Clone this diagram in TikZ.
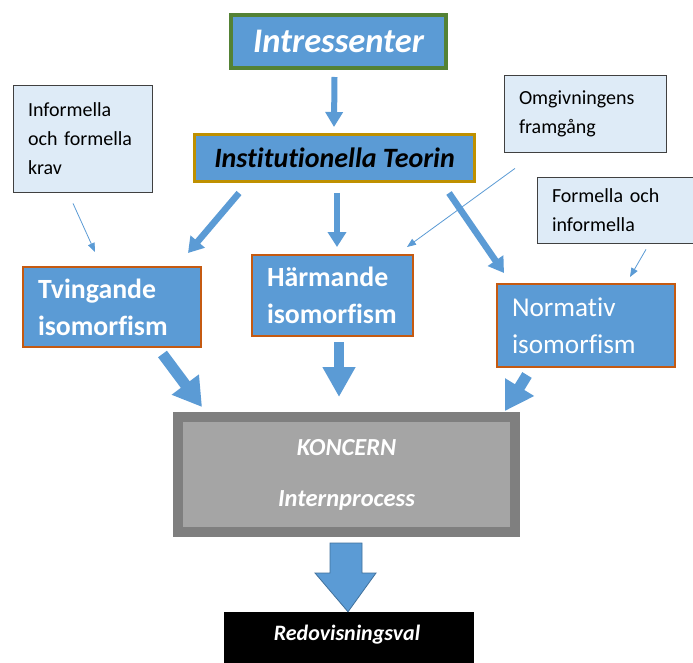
\documentclass[tikz,border=0pt]{standalone}
\usepackage{fontspec}
\setmainfont{Carlito}[Ligatures={NoCommon}]
\usetikzlibrary{arrows.meta}
\definecolor{blueF}{HTML}{5B9BD5}
\definecolor{blueD}{HTML}{41719C}
\definecolor{calF}{HTML}{DEEBF7}
\definecolor{calD}{HTML}{404040}
\definecolor{greenB}{HTML}{548235}
\definecolor{goldB}{HTML}{BF9000}
\definecolor{brownB}{HTML}{C55A11}
\definecolor{grayB}{HTML}{7F7F7F}
\definecolor{grayF}{HTML}{A5A5A5}
\tikzset{
  isobox/.style={draw=brownB, line width=2pt, fill=blueF, text=white, align=left, inner xsep=15pt, inner ysep=0pt, font=\bfseries\fontsize{27.8}{37}\selectfont},
  callout/.style={draw=calD, line width=0.8pt, fill=calF, text=black, align=left, inner xsep=15pt, inner ysep=0pt, font=\fontsize{20}{29}\selectfont},
  thinarrow/.style={draw=blueF, line width=0.8pt, -{Triangle[width=7pt,length=9pt]}},
  midarrow/.style={draw=blueF, line width=6.5pt, -{Triangle[width=18pt,length=15pt]}},
  bigarrow/.style={draw=blueF, line width=11pt, -{Triangle[width=32pt,length=28pt]}},
}
\begin{document}
\begin{tikzpicture}[x=1pt,y=-1pt]
\clip (0,0) rectangle (693,663);
\fill[white] (0,0) rectangle (693,663);
% main boxes
\node[draw=greenB, line width=4pt, fill=blueF, text=white, minimum width=215pt, minimum height=53pt, inner sep=0pt, font=\bfseries\itshape\fontsize{34.5}{38}\selectfont] (intr) at (338.5,41.5) {Intressenter};
\node[draw=goldB, line width=3pt, fill=blueF, text=black, minimum width=280pt, minimum height=47pt, inner sep=0pt, font=\bfseries\itshape\fontsize{28}{32}\selectfont] (inst) at (334.5,158) {Institutionella Teorin};
% callouts
\node[callout, text width=109pt, minimum height=107pt] (inf) at (82.5,138.5) {Informella\\och formella\\krav};
\node[callout, text width=132pt, minimum height=77pt] (omg) at (585,113.5) {Omgivningens\\framgång};
\node[callout, text width=135pt, minimum height=66pt] (form) at (619.5,210) {Formella och\\informella};
% isomorphism boxes
\node[isobox, text width=148pt, minimum height=80pt] (tv) at (112,307) {Tvingande\\isomorfism};
\node[isobox, text width=131pt, minimum height=81pt] (harm) at (332.5,295.5) {Härmande\\isomorfism};
\node[isobox, text width=148pt, minimum height=83pt, font=\fontsize{27.2}{37}\selectfont] (norm) at (586,325.5) {Normativ\\isomorfism};
% koncern
\node[draw=grayB, line width=10pt, fill=grayF, text=white, minimum width=337pt, minimum height=115pt, inner sep=0pt, align=center, font=\bfseries\itshape\fontsize{24.5}{51}\selectfont] (kon) at (346.5,474.5) {KONCERN\\Internprocess};
% result
\node[fill=black, minimum width=250pt, minimum height=51pt, inner sep=0pt] (red) at (349,637.5) {};
\node[text=white, inner sep=0pt, font=\bfseries\itshape\fontsize{22}{26}\selectfont] (redt) at (347,635) {Redovisningsval};
% arrows
\draw[midarrow, line width=6pt, -{Triangle[width=17pt,length=15pt]}] ([xshift=-4pt,yshift=-7pt]intr.south) -- ([xshift=-0.5pt,yshift=6pt]inst.north);
\draw[midarrow] ([xshift=-95.5pt,yshift=-10pt]inst.south) -- ([xshift=76pt,yshift=13pt]tv.north);
\draw[midarrow] ([xshift=2.5pt,yshift=-10pt]inst.south) -- ([xshift=4.5pt,yshift=7pt]harm.north);
\draw[midarrow] ([xshift=114.5pt,yshift=-10pt]inst.south) -- ([xshift=-82pt,yshift=10pt]norm.north);
\draw[thinarrow] ([xshift=-9.5pt,yshift=-11pt]inf.south) -- ([xshift=-17pt,yshift=14pt]tv.north);
\draw[thinarrow] ([xshift=-70pt,yshift=-16pt]omg.south) -- ([xshift=74.5pt,yshift=7pt]harm.north);
\draw[thinarrow] ([xshift=26.5pt,yshift=-6pt]form.south) -- ([xshift=44pt,yshift=6pt]norm.north);
\draw[bigarrow] ([xshift=50.5pt,yshift=-6pt]tv.south) -- ([xshift=-144.5pt,yshift=5pt]kon.north);
\draw[bigarrow, line width=10pt, -{Triangle[width=31pt,length=30pt]}] ([xshift=6.5pt,yshift=-5pt]harm.south) -- ([xshift=-7.5pt,yshift=15pt]kon.north);
\draw[bigarrow] ([xshift=-59pt,yshift=-7pt]norm.south) -- ([xshift=158.5pt,yshift=1pt]kon.north);
% big down arrow
\coordinate (bt) at ([yshift=-6pt]kon.south);
\draw[fill=blueF, draw=blueD, line width=0.8pt] ([xshift=-16.5pt]bt) -- ([xshift=15.5pt]bt) -- ([xshift=15.5pt,yshift=-30pt]bt) -- ([xshift=29.5pt,yshift=-30pt]bt) -- ([xshift=-1pt]red.north) -- ([xshift=-31.5pt,yshift=-30pt]bt) -- ([xshift=-16.5pt,yshift=-30pt]bt) -- cycle;
\end{tikzpicture}
\end{document}
